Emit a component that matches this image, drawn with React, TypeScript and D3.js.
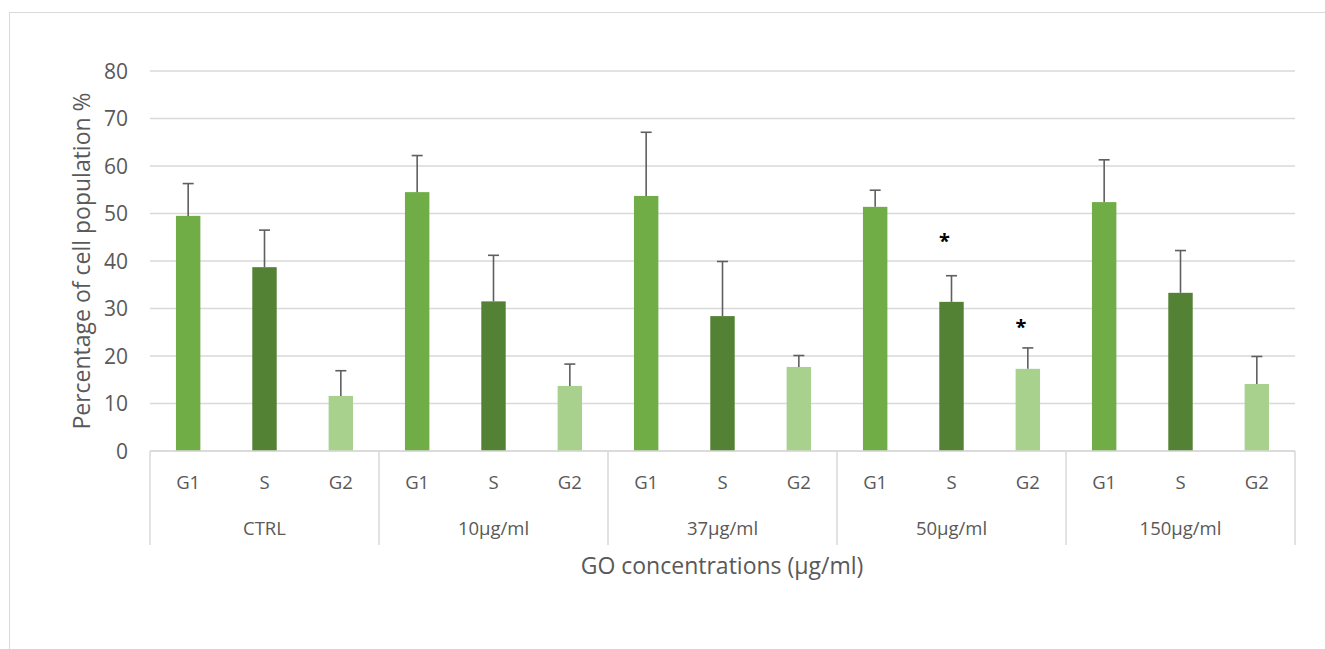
import React from "react";
import * as d3 from "d3";

const groups = ["CTRL", "10µg/ml", "37µg/ml", "50µg/ml", "150µg/ml"];
const phases = ["G1", "S", "G2"];
const g1Values = [49.5, 54.5, 53.7, 51.4, 52.4];
const sValues = [38.7, 31.5, 28.4, 31.4, 33.3];
const g2Values = [11.6, 13.7, 17.7, 17.3, 14.1];
const g1Err = [6.8, 7.7, 13.4, 3.5, 8.9];
const sErr = [7.8, 9.7, 11.5, 5.5, 8.9];
const g2Err = [5.3, 4.6, 2.4, 4.4, 5.8];
const significant = [
  { group: "50µg/ml", phase: "S", level: 44.8 },
  { group: "50µg/ml", phase: "G2", level: 26.7 },
];
const yTicks = [0, 10, 20, 30, 40, 50, 60, 70, 80];
const phaseColors = ["#70AD47", "#548235", "#A9D18E"];

const W = 1325;
const H = 649;
const left = 150;
const right = 1295;
const top = 71;
const bottom = 451;
const font = "'Open Sans', 'Liberation Sans', sans-serif";
const textColor = "#595959";

export default function App() {
  const y = d3.scaleLinear().domain([0, 80]).range([bottom, top]);
  const xg = d3.scaleBand<string>().domain(groups).range([left, right]).padding(0);
  const xp = d3.scaleBand<string>().domain(phases).range([0, xg.bandwidth()]).padding(0);
  const barW = xp.bandwidth() * 0.32;
  const series = [g1Values, sValues, g2Values];
  const errs = [g1Err, sErr, g2Err];

  const bars: any[] = [];
  groups.forEach((g, gi) => {
    phases.forEach((p, pi) => {
      const cx = (xg(g) as number) + (xp(p) as number) + xp.bandwidth() / 2;
      const v = series[pi][gi];
      const e = errs[pi][gi];
      bars.push({ g, p, cx, v, e, color: phaseColors[pi] });
    });
  });

  return (
    <svg width={W} height={H} style={{ position: "absolute", left: 0, top: 0, background: "#fff" }}>
      <rect x={9.5} y={12.5} width={1330} height={660} fill="#fff" stroke="#d9d9d9" strokeWidth={1} />
      {yTicks.map((t) => (
        <g key={t}>
          <line x1={left} x2={right} y1={y(t)} y2={y(t)} stroke="#d9d9d9" strokeWidth={1.5} />
          <text x={128} y={y(t)} dy="0.36em" textAnchor="end" fontFamily={font} fontSize={21} fill={textColor}>
            {t}
          </text>
        </g>
      ))}
      {bars.map((b, i) => (
        <g key={i}>
          <rect x={b.cx - barW / 2} y={y(b.v)} width={barW} height={y(0) - y(b.v)} fill={b.color} />
          <line x1={b.cx} x2={b.cx} y1={y(b.v)} y2={y(b.v + b.e)} stroke="#5f5f5f" strokeWidth={1.6} />
          <line x1={b.cx - 5.5} x2={b.cx + 5.5} y1={y(b.v + b.e)} y2={y(b.v + b.e)} stroke="#5f5f5f" strokeWidth={1.6} />
          <text x={b.cx} y={482} dy="0.36em" textAnchor="middle" fontFamily={font} fontSize={18.5} fill={textColor}>
            {b.p}
          </text>
        </g>
      ))}
      {significant.map((s, i) => {
        const cx = (xg(s.group) as number) + (xp(s.phase) as number) + xp.bandwidth() / 2;
        return (
          <text key={i} x={cx - 7} y={y(s.level) + 10} textAnchor="middle" fontFamily={font} fontSize={20} fontWeight="bold" fill="#000">
            *
          </text>
        );
      })}
      <line x1={left} x2={right} y1={bottom} y2={bottom} stroke="#d9d9d9" strokeWidth={1.5} />
      {[...groups.map((g) => xg(g) as number), right].map((x, i) => (
        <line key={i} x1={x} x2={x} y1={bottom} y2={545} stroke="#d9d9d9" strokeWidth={1.5} />
      ))}
      {groups.map((g) => (
        <text key={g} x={(xg(g) as number) + xg.bandwidth() / 2} y={528} dy="0.36em" textAnchor="middle" fontFamily={font} fontSize={18.5} fill={textColor}>
          {g}
        </text>
      ))}
      <text x={722} y={566} dy="0.36em" textAnchor="middle" fontFamily={font} fontSize={23} fill={textColor}>
        GO concentrations (µg/ml)
      </text>
      <text transform={`translate(82,${(top + bottom) / 2}) rotate(-90)`} dy="0.36em" textAnchor="middle" fontFamily={font} fontSize={23} fill={textColor}>
        Percentage of cell population %
      </text>
    </svg>
  );
}
